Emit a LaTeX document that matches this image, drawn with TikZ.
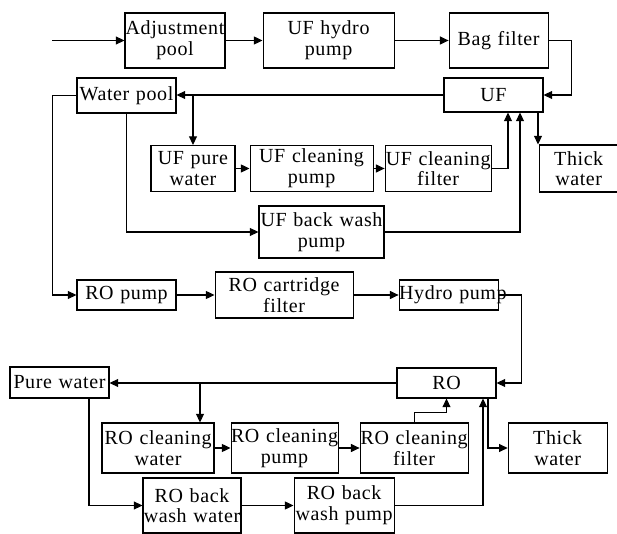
\documentclass[tikz,border=0pt]{standalone}
\usepackage{fontspec}
\setmainfont[LetterSpace=3]{Liberation Serif}
\usetikzlibrary{positioning, arrows.meta}
\newlength{\upx}
\setlength{\upx}{0.75pt}

\begin{document}
\begin{tikzpicture}[
  x=\upx, y=-\upx,
  blk/.style={draw, line width=0.8pt, align=center, inner sep=0pt,
    font=\fontsize{15}{15.5}\selectfont},
  line/.style={-{Triangle[length=6.5pt, width=6pt]}, line width=0.8pt}
]
\useasboundingbox (0,0) rectangle (617,534);

% UF part
\node[blk, text width=100\upx, minimum height=55\upx] (adj) at (175,40.5) {Adjustment\\pool};
\node[blk, text width=131\upx, minimum height=55\upx, right=37\upx of adj] (uhp) {UF~hydro\\pump};
\node[blk, text width=99\upx, minimum height=55\upx, right=54\upx of uhp] (bag) {Bag~filter};
\node[blk, text width=99\upx, minimum height=35\upx] (wpool) at (126.5,95.5) {Water~pool};
\node[blk, text width=99\upx, minimum height=34\upx] (uf) at (493.5,95) {UF};
\node[blk, text width=84\upx, minimum height=46\upx] (ufpw) at (193,168.5) {UF~pure\\water};
\node[blk, text width=123\upx, minimum height=46\upx, right=14\upx of ufpw] (ufcp) {UF~cleaning\\pump};
\node[blk, text width=106\upx, minimum height=46\upx, right=11\upx of ufcp] (ufcf) {UF~cleaning\\filter};
\node[blk, text width=79\upx, minimum height=47\upx, right=47\upx of ufcf] (thk1) {Thick\\water};
\node[blk, text width=125\upx, minimum height=52\upx] (ufbw) at (321.5,232) {UF~back~wash\\pump};

% RO part
\node[blk, text width=99\upx, minimum height=30\upx] (ropump) at (126.5,295) {RO~pump};
\node[blk, text width=138\upx, minimum height=46\upx, right=38\upx of ropump] (rocart) {RO~cartridge\\filter};
\node[blk, text width=99\upx, minimum height=30\upx, right=45\upx of rocart] (hydro) {Hydro~pump};
\node[blk, text width=99\upx, minimum height=31\upx] (pure) at (59.5,382.5) {Pure~water};
\node[blk, text width=99\upx, minimum height=30\upx] (ro) at (446.5,383) {RO};
\node[blk, text width=112\upx, minimum height=50\upx] (rocw) at (158,448) {RO~cleaning\\water};
\node[blk, text width=107\upx, minimum height=50\upx, right=16\upx of rocw] (rocp) {RO~cleaning\\pump};
\node[blk, text width=108\upx, minimum height=50\upx, right=21\upx of rocp] (rocfl) {RO~cleaning\\filter};
\node[blk, text width=99\upx, minimum height=50\upx, right=39\upx of rocfl] (thk2) {Thick\\water};
\node[blk, text width=98\upx, minimum height=55\upx] (robww) at (192,505.5) {RO~back\\wash~water};
\node[blk, text width=100\upx, minimum height=55\upx, right=52\upx of robww] (robwp) {RO~back\\wash~pump};

\coordinate (in) at (52,40.5);
\coordinate (j1) at (ufpw.north |- uf.west);
\coordinate (j2) at ([xshift=42\upx]rocw.north |- ro.west);

% Arrows UF
\draw[line] (in) -- (adj);
\draw[line] (adj) -- (uhp);
\draw[line] (uhp) -- (bag);
\draw[line] (bag.east) -- ++(23,0) |- (uf.east);
\draw[line] (uf.west) -- (uf.west -| wpool.east);
\draw[line] (j1) -- (ufpw.north);
\draw[line] (ufpw) -- (ufcp);
\draw[line] (ufcp) -- (ufcf);
\draw[line] (ufcf.east) -| ([xshift=14.5\upx]uf.south);
\draw[line] (wpool.south) |- (ufbw.west);
\draw[line] (ufbw.east) -| ([xshift=26.5\upx]uf.south);
\draw[line] ([xshift=44.5\upx]uf.south) -- ([xshift=44.5\upx]uf.south |- thk1.north);
\draw[line] (wpool.west) -- ++(-24,0) |- (ropump.west);

% Arrows RO
\draw[line] (ropump) -- (rocart);
\draw[line] (rocart) -- (hydro);
\draw[line] (hydro.east) -- ++(23,0) |- (ro.east);
\draw[line] (ro.west) -- (ro.west -| pure.east);
\draw[line] (j2) -- (j2 |- rocw.north);
\draw[line] (rocw) -- (rocp);
\draw[line] (rocp) -- (rocfl);
\draw[line] (rocfl.north) -- ++(0,-10) -| (ro.south);
\draw[line] (robwp.east) -| ([xshift=36.5\upx]ro.south);
\draw[line] ([xshift=41.5\upx]ro.south) |- (thk2.west);
\draw[line] ([xshift=29.5\upx]pure.south) |- (robww.west);
\draw[line] (robww) -- (robwp);

\end{tikzpicture}
\end{document}
